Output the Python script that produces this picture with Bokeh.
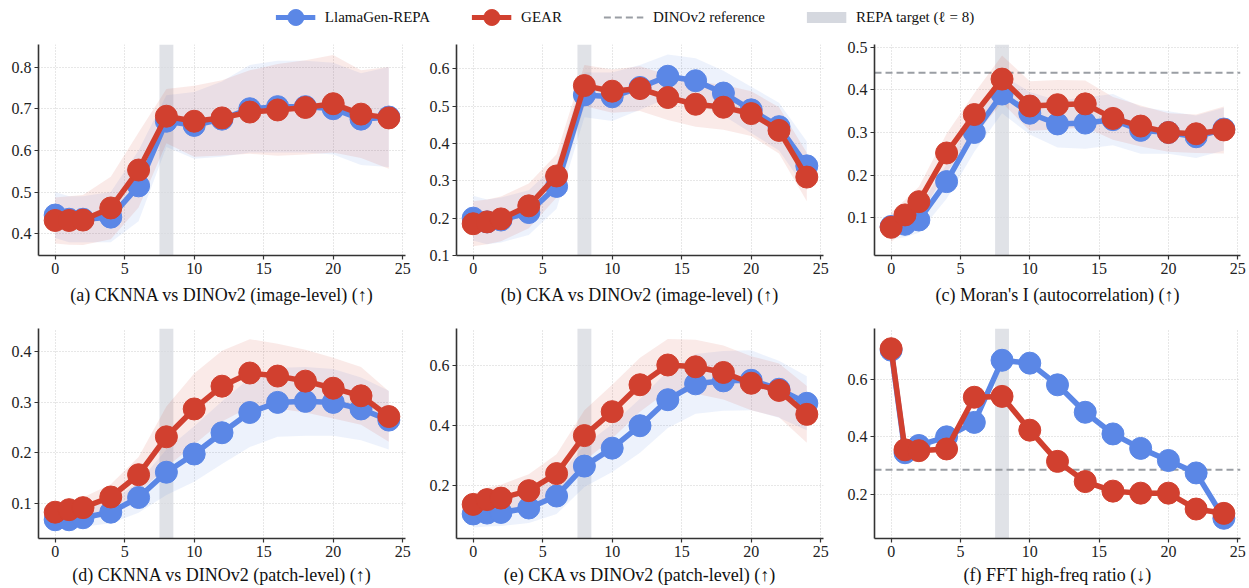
from bokeh.plotting import figure
from bokeh.models import Range1d, FixedTicker, Span, BoxAnnotation, Legend, LegendItem
from bokeh.layouts import column, row
from bokeh.embed import file_html
from bokeh.resources import INLINE

# ---------------- data ----------------
layers = [0, 1, 2, 4, 6, 8, 10, 12, 14, 16, 18, 20, 22, 24]
repa_target_layer = 8
x_ticks = [0, 5, 10, 15, 20, 25]

# (a) CKNNA image-level
a_llama = [0.445, 0.435, 0.435, 0.440, 0.515, 0.670, 0.660, 0.675, 0.700, 0.705, 0.705, 0.700, 0.675, 0.680]
a_llama_sd = [0.055, 0.055, 0.055, 0.060, 0.085, 0.062, 0.080, 0.090, 0.105, 0.110, 0.110, 0.110, 0.110, 0.120]
a_gear = [0.432, 0.432, 0.433, 0.462, 0.553, 0.682, 0.670, 0.678, 0.692, 0.697, 0.703, 0.712, 0.687, 0.678]
a_gear_sd = [0.055, 0.058, 0.060, 0.075, 0.090, 0.065, 0.085, 0.090, 0.100, 0.110, 0.113, 0.117, 0.105, 0.122]
a_yticks = [0.4, 0.5, 0.6, 0.7, 0.8]

# (b) CKA image-level
b_llama = [0.200, 0.190, 0.195, 0.215, 0.285, 0.530, 0.525, 0.550, 0.580, 0.568, 0.535, 0.490, 0.445, 0.340]
b_llama_sd = [0.060, 0.060, 0.060, 0.060, 0.060, 0.060, 0.065, 0.060, 0.058, 0.060, 0.060, 0.062, 0.064, 0.065]
b_gear = [0.185, 0.190, 0.198, 0.233, 0.313, 0.555, 0.540, 0.547, 0.523, 0.505, 0.497, 0.480, 0.435, 0.310]
b_gear_sd = [0.060, 0.060, 0.060, 0.060, 0.058, 0.055, 0.058, 0.060, 0.060, 0.060, 0.060, 0.060, 0.062, 0.065]
b_yticks = [0.1, 0.2, 0.3, 0.4, 0.5, 0.6]

# (c) Moran's I
c_llama = [0.080, 0.085, 0.095, 0.185, 0.300, 0.390, 0.345, 0.320, 0.322, 0.330, 0.305, 0.300, 0.290, 0.308]
c_llama_sd = [0.030, 0.030, 0.030, 0.040, 0.045, 0.045, 0.050, 0.055, 0.060, 0.060, 0.055, 0.050, 0.050, 0.050]
c_gear = [0.078, 0.107, 0.138, 0.252, 0.342, 0.425, 0.362, 0.365, 0.367, 0.333, 0.315, 0.300, 0.297, 0.306]
c_gear_sd = [0.035, 0.035, 0.035, 0.045, 0.050, 0.055, 0.058, 0.058, 0.055, 0.050, 0.048, 0.045, 0.045, 0.055]
c_yticks = [0.1, 0.2, 0.3, 0.4, 0.5]
c_dino_ref = 0.44

# (d) CKNNA patch-level
d_llama = [0.068, 0.068, 0.072, 0.083, 0.112, 0.162, 0.198, 0.240, 0.280, 0.300, 0.302, 0.300, 0.287, 0.265]
d_llama_sd = [0.015, 0.015, 0.018, 0.022, 0.030, 0.045, 0.055, 0.062, 0.068, 0.068, 0.068, 0.066, 0.062, 0.058]
d_gear = [0.083, 0.088, 0.092, 0.113, 0.157, 0.232, 0.287, 0.332, 0.358, 0.352, 0.342, 0.328, 0.313, 0.272]
d_gear_sd = [0.015, 0.017, 0.020, 0.025, 0.035, 0.060, 0.070, 0.070, 0.067, 0.064, 0.062, 0.060, 0.057, 0.050]
d_yticks = [0.1, 0.2, 0.3, 0.4]

# (e) CKA patch-level
e_llama = [0.105, 0.108, 0.110, 0.125, 0.165, 0.265, 0.325, 0.400, 0.487, 0.540, 0.550, 0.552, 0.522, 0.475]
e_llama_sd = [0.045, 0.045, 0.045, 0.050, 0.060, 0.070, 0.080, 0.090, 0.095, 0.100, 0.100, 0.100, 0.095, 0.090]
e_gear = [0.137, 0.153, 0.158, 0.183, 0.240, 0.367, 0.447, 0.537, 0.603, 0.597, 0.578, 0.542, 0.518, 0.438]
e_gear_sd = [0.035, 0.040, 0.045, 0.055, 0.065, 0.085, 0.090, 0.090, 0.087, 0.090, 0.090, 0.090, 0.090, 0.095]
e_yticks = [0.2, 0.4, 0.6]

# (f) FFT high-freq ratio
f_llama = [0.700, 0.345, 0.370, 0.400, 0.450, 0.665, 0.655, 0.580, 0.485, 0.410, 0.360, 0.318, 0.275, 0.118]
f_llama_sd = [0.010] * 14
f_gear = [0.705, 0.355, 0.352, 0.358, 0.537, 0.540, 0.423, 0.315, 0.245, 0.212, 0.205, 0.205, 0.150, 0.135]
f_gear_sd = [0.010] * 14
f_yticks = [0.2, 0.4, 0.6]
f_dino_ref = 0.286

titles = [
    "(a) CKNNA vs DINOv2 (image-level) (\u2191)",
    "(b) CKA vs DINOv2 (image-level) (\u2191)",
    "(c) Moran's I (autocorrelation) (\u2191)",
    "(d) CKNNA vs DINOv2 (patch-level) (\u2191)",
    "(e) CKA vs DINOv2 (patch-level) (\u2191)",
    "(f) FFT high-freq ratio (\u2193)",
]
legend_labels = ["LlamaGen-REPA", "GEAR", "DINOv2 reference", "REPA target (\u2113 = 8)"]

# ---------------- style ----------------
BLUE = "#5b87e6"
RED = "#d1402f"
SPAN_C = "#d5d8df"
REF_C = "#9a9ea4"
AX_C = "#333333"
FONT = "Liberation Serif"

# (left border, frame width, right border) per column; (top, frame height, bottom, label standoff) per row
COL_G = [(38, 367, 14), (37, 367, 7), (44, 366, 9)]
ROW_G = [(10, 211, 61, 8), (12, 210, 50, 5)]
LEGEND_H = 34


def make_panel(idx, llama, llama_sd, gear, gear_sd, yticks, ylim, ref=None):
    r, c = divmod(idx, 3)
    bl, fw, br = COL_G[c]
    bt, fh, bb, lso = ROW_G[r]
    p = figure(width=bl + fw + br, height=bt + fh + bb,
               x_range=Range1d(-1.2, 25.2), y_range=Range1d(*ylim),
               output_backend="svg", toolbar_location=None,
               min_border_left=bl, min_border_right=br,
               min_border_top=bt, min_border_bottom=bb)
    p.outline_line_color = None
    p.background_fill_color = "white"
    p.border_fill_color = "white"

    p.xaxis.ticker = FixedTicker(ticks=x_ticks)
    p.yaxis.ticker = FixedTicker(ticks=yticks)
    for ax in (p.xaxis[0], p.yaxis[0]):
        ax.axis_line_color = AX_C
        ax.axis_line_width = 1.6
        ax.major_tick_line_color = AX_C
        ax.major_tick_line_width = 1.2
        ax.major_tick_out = 4
        ax.major_tick_in = 0
        ax.minor_tick_line_color = None
        ax.major_label_text_font = FONT
        ax.major_label_text_font_size = "16px"
        ax.major_label_text_color = "#222222"
        ax.major_label_standoff = 3
    p.xaxis.axis_label = titles[idx]
    p.xaxis.axis_label_text_font = FONT
    p.xaxis.axis_label_text_font_size = "18px"
    p.xaxis.axis_label_text_font_style = "normal"
    p.xaxis.axis_label_text_color = "#111111"
    p.xaxis.axis_label_standoff = lso

    p.grid.grid_line_color = "#cfcfcf"
    p.grid.grid_line_dash = "1 2"
    p.grid.grid_line_width = 1

    p.add_layout(BoxAnnotation(left=repa_target_layer - 0.5, right=repa_target_layer + 0.5,
                               fill_color=SPAN_C, fill_alpha=0.75, line_color=None,
                               level="underlay"))
    if ref is not None:
        p.add_layout(Span(location=ref, dimension="width", line_color=REF_C,
                          line_dash="7 4", line_width=2, level="underlay"))

    l_lo = [m - s for m, s in zip(llama, llama_sd)]
    l_hi = [m + s for m, s in zip(llama, llama_sd)]
    g_lo = [m - s for m, s in zip(gear, gear_sd)]
    g_hi = [m + s for m, s in zip(gear, gear_sd)]
    p.varea(x=layers, y1=l_lo, y2=l_hi, fill_color=BLUE, fill_alpha=0.11)
    p.varea(x=layers, y1=g_lo, y2=g_hi, fill_color=RED, fill_alpha=0.11)

    p.line(layers, llama, line_color=BLUE, line_width=5.5)
    p.scatter(layers, llama, size=22, fill_color=BLUE, line_color=BLUE)
    p.line(layers, gear, line_color=RED, line_width=5.5)
    p.scatter(layers, gear, size=22, fill_color=RED, line_color=RED)
    return p


panels = [
    make_panel(0, a_llama, a_llama_sd, a_gear, a_gear_sd, a_yticks, (0.348, 0.854)),
    make_panel(1, b_llama, b_llama_sd, b_gear, b_gear_sd, b_yticks, (0.100, 0.665)),
    make_panel(2, c_llama, c_llama_sd, c_gear, c_gear_sd, c_yticks, (0.012, 0.506), c_dino_ref),
    make_panel(3, d_llama, d_llama_sd, d_gear, d_gear_sd, d_yticks, (0.031, 0.446)),
    make_panel(4, e_llama, e_llama_sd, e_gear, e_gear_sd, e_yticks, (0.023, 0.725)),
    make_panel(5, f_llama, f_llama_sd, f_gear, f_gear_sd, f_yticks, (0.048, 0.775), f_dino_ref),
]

# ---------------- legend strip ----------------
total_w = sum(bl + fw + br for bl, fw, br in COL_G)
lg = figure(width=total_w, height=LEGEND_H, x_range=Range1d(0, 1), y_range=Range1d(0, 1),
            output_backend="svg", toolbar_location=None, min_border=0,
            x_axis_type=None, y_axis_type=None)
lg.outline_line_color = None
lg.grid.visible = False
off = dict(x=[-5, -4], y=[-5, -4])  # outside the visible range: only the legend swatches show
rb_l = lg.line(line_color=BLUE, line_width=5, **off)
rb_m = lg.scatter(fill_color=BLUE, line_color=BLUE, **off)
rr_l = lg.line(line_color=RED, line_width=5, **off)
rr_m = lg.scatter(fill_color=RED, line_color=RED, **off)
rd = lg.line(line_color=REF_C, line_width=2, line_dash="7 4", **off)
rs = lg.line(line_color=SPAN_C, line_width=11, line_cap="butt", **off)
legend = Legend(items=[
    LegendItem(label=legend_labels[0], renderers=[rb_l, rb_m]),
    LegendItem(label=legend_labels[1], renderers=[rr_l, rr_m]),
    LegendItem(label=legend_labels[2], renderers=[rd]),
    LegendItem(label=legend_labels[3], renderers=[rs]),
], orientation="horizontal", location="center", border_line_color=None,
    background_fill_alpha=0, label_text_font=FONT, label_text_font_size="15px",
    label_text_color="#111111", glyph_width=40, glyph_height=41, spacing=41,
    label_standoff=10, padding=0, margin=0, label_height=18)
lg.add_layout(legend, "center")

layout = column(lg, row(*panels[:3]), row(*panels[3:]))
open("out.html", "w").write(file_html(layout, INLINE))
